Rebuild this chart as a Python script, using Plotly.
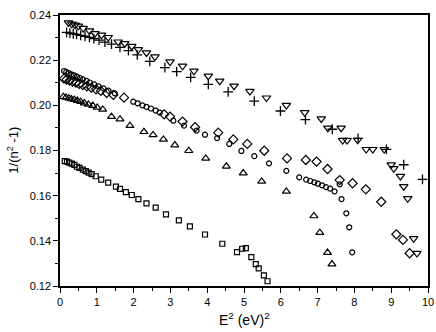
import plotly.graph_objects as go

# Down triangles
tri_down_x = [0.23,0.32,0.41,0.50,0.63,0.80,0.95,1.13,1.31,1.58,1.76,1.95,2.13,2.35,2.58,2.99,3.33,3.64,4.03,4.34,4.73,5.16,5.61,6.15,6.65,7.10,7.28,7.64,7.68,7.80,8.09,8.32,8.50,8.81,9.00,9.07,9.25,9.34,9.45,9.61,9.70]
tri_down_y = [0.2366,0.2360,0.2356,0.2351,0.2341,0.2330,0.2318,0.2311,0.2301,0.2281,0.2274,0.2262,0.2247,0.2233,0.2215,0.2193,0.2174,0.2152,0.2130,0.2108,0.2086,0.2062,0.2033,0.2000,0.1968,0.1941,0.1900,0.1900,0.1845,0.1845,0.1846,0.1805,0.1805,0.1805,0.1737,0.1720,0.1686,0.1641,0.1587,0.1410,0.1345]

# Plus
plus_x = [0.18,0.27,0.36,0.45,0.56,0.68,0.80,0.92,1.06,1.22,1.40,1.63,1.86,2.10,2.44,2.85,3.17,3.55,4.03,4.57,5.28,5.99,6.67,7.40,8.10,8.87,9.34,9.85]
plus_y = [0.2323,0.2320,0.2317,0.2314,0.2310,0.2306,0.2301,0.2295,0.2289,0.2280,0.2271,0.2257,0.2242,0.2223,0.2195,0.2167,0.2149,0.2124,0.2093,0.2060,0.2019,0.1975,0.1937,0.1894,0.1854,0.1805,0.1737,0.1672]

# Circles
circ_x = [0.11,0.17,0.24,0.31,0.38,0.46,0.54,0.62,0.72,0.81,0.93,1.05,1.18,1.32,1.49,1.99,2.11,2.24,2.35,2.47,2.60,2.71,3.08,3.37,3.71,3.94,4.27,4.60,4.93,5.28,5.68,6.15,6.50,6.69,6.80,6.91,7.01,7.12,7.23,7.34,7.46,7.60,7.65,7.78,7.86,7.94]
circ_y = [0.2152,0.2148,0.2143,0.2137,0.2133,0.2127,0.2121,0.2115,0.2108,0.2101,0.2093,0.2084,0.2075,0.2065,0.2053,0.2016,0.2009,0.2000,0.1993,0.1986,0.1977,0.1968,0.1932,0.1910,0.1888,0.1870,0.1855,0.1829,0.1798,0.1775,0.1743,0.1710,0.1681,0.1671,0.1665,0.1659,0.1653,0.1646,0.1638,0.1631,0.1619,0.1650,0.1585,0.1522,0.1460,0.1349]

# Diamonds
diam_x = [0.11,0.18,0.26,0.34,0.43,0.52,0.62,0.73,0.85,0.98,1.11,1.27,1.45,1.74,2.83,2.99,3.33,3.67,4.30,4.71,5.09,5.55,6.17,6.68,6.97,7.27,7.60,7.95,8.31,8.73,9.14,9.32,9.50]
diam_y = [0.2118,0.2114,0.2109,0.2105,0.2101,0.2095,0.2090,0.2084,0.2078,0.2071,0.2064,0.2055,0.2046,0.2034,0.1960,0.1950,0.1928,0.1903,0.1879,0.1849,0.1829,0.1799,0.1765,0.1758,0.1751,0.1718,0.1669,0.1655,0.1628,0.1573,0.1429,0.1404,0.1345]

# Up triangles
tri_up_x = [0.09,0.16,0.24,0.31,0.39,0.47,0.56,0.66,0.77,0.89,1.01,1.16,1.40,1.63,1.90,2.28,2.53,2.81,3.12,3.50,3.96,4.52,4.98,5.48,6.15,6.90,7.06,7.27,7.39]
tri_up_y = [0.2038,0.2035,0.2032,0.2028,0.2025,0.2021,0.2016,0.2010,0.2004,0.1999,0.1991,0.1982,0.1950,0.1939,0.1910,0.1883,0.1869,0.1849,0.1824,0.1799,0.1765,0.1730,0.1700,0.1663,0.1619,0.1510,0.1436,0.1348,0.1297]

# Squares
sq_x = [0.13,0.19,0.25,0.32,0.39,0.46,0.53,0.62,0.70,0.78,0.86,0.97,1.12,1.31,1.52,1.63,1.79,1.95,2.13,2.35,2.60,2.88,3.23,3.53,3.94,4.41,4.81,4.95,5.05,5.20,5.32,5.40,5.54,5.64]
sq_y = [0.1753,0.1751,0.1746,0.1742,0.1736,0.1728,0.1723,0.1715,0.1709,0.1702,0.1695,0.1686,0.1671,0.1658,0.1640,0.1630,0.1616,0.1603,0.1585,0.1566,0.1547,0.1517,0.1491,0.1464,0.1428,0.1387,0.1350,0.1365,0.1368,0.1328,0.1297,0.1278,0.1247,0.1221]

x_ticks = [0, 1, 2, 3, 4, 5, 6, 7, 8, 9, 10]
y_ticks = [0.12, 0.14, 0.16, 0.18, 0.20, 0.22, 0.24]

fig = go.Figure()

def add(x, y, symbol, size, lw=1.2):
    fig.add_trace(go.Scatter(
        x=x, y=y, mode="markers",
        marker=dict(symbol=symbol, size=size, color="black",
                    line=dict(color="black", width=lw)),
        showlegend=False, cliponaxis=False))

add(tri_down_x, tri_down_y, "triangle-down-open", 7.5)
add(plus_x, plus_y, "cross-thin", 7, 1.3)
add(circ_x, circ_y, "circle-open", 5)
add(diam_x, diam_y, "diamond-open", 7)
add(tri_up_x, tri_up_y, "triangle-up-open", 7)
add(sq_x, sq_y, "square-open", 5)

font = "Liberation Sans, Arial, sans-serif"
fig.update_layout(
    width=436, height=332,
    margin=dict(l=60, r=8, t=15, b=46),
    paper_bgcolor="white", plot_bgcolor="white",
    font=dict(family=font, color="black", size=11),
    xaxis=dict(range=[0, 10], tickvals=x_ticks, ticktext=[str(v) for v in x_ticks],
               automargin=False,
               showgrid=False, zeroline=False, showline=True, linecolor="black",
               linewidth=1.5, mirror=True, ticks="outside", ticklen=5, tickwidth=1.2,
               tickcolor="black",
               minor=dict(dtick=0.5, ticks="outside", ticklen=3, tickcolor="black", tickwidth=1),
               tickfont=dict(size=11, family=font)),
    yaxis=dict(range=[0.12, 0.24], tickvals=y_ticks, ticktext=[f"{v:.2f}" for v in y_ticks],
               automargin=False,
               showgrid=False, zeroline=False, showline=True, linecolor="black",
               linewidth=1.5, mirror=True, ticks="outside", ticklen=5, tickwidth=1.2,
               tickcolor="black",
               minor=dict(dtick=0.01, ticks="outside", ticklen=3, tickcolor="black", tickwidth=1),
               tickfont=dict(size=11, family=font)),
    annotations=[
        dict(text="E<sup>2</sup> (eV)<sup>2</sup>", xref="paper", yref="paper",
             x=0.5, y=-0.122, xanchor="center", yanchor="middle", showarrow=False,
             font=dict(size=14, family=font)),
        dict(text="1/(n<sup>2</sup> -1)", xref="paper", yref="paper",
             x=-0.13, y=0.5, xanchor="center", yanchor="middle", showarrow=False,
             textangle=-90, font=dict(size=13, family=font)),
    ],
)

fig.write_html("out.html", config={"displayModeBar": False},
               post_script="document.body.style.margin='0';document.body.style.overflow='hidden';")
